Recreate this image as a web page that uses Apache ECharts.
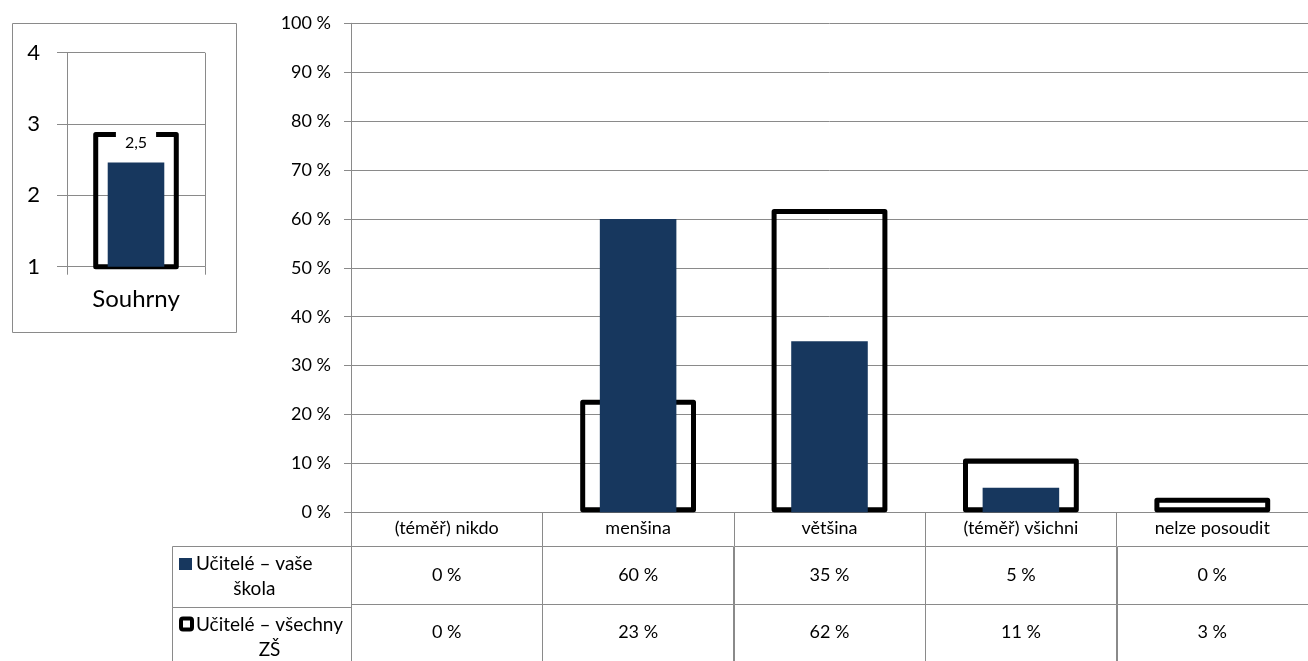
<!DOCTYPE html>
<html>
<head>
<meta charset="utf-8">
<script src="https://cdn.jsdelivr.net/npm/echarts@6/dist/echarts.min.js"></script>
<style>
html,body{margin:0;padding:0;background:#fff;}
#chart{width:1308px;height:661px;}
</style>
</head>
<body>
<div id="chart"></div>
<script>
// ---- data ----
const categories = ['(téměř) nikdo', 'menšina', 'většina', '(téměř) všichni', 'nelze posoudit'];
const schoolValues = [0, 60, 35, 5, 0];
const allValues = [0, 23, 62, 11, 3];
const seriesNames = ['Učitelé – vaše škola', 'Učitelé – všechny ZŠ'];
const seriesLabelLines = [['Učitelé – vaše', 'škola'], ['Učitelé – všechny', 'ZŠ']];
const summaryCategories = ['Souhrny'];
const summarySchool = [2.46];
const summaryAll = [2.89];

// ---- style ----
const FONT = 'Lato';
const GRID_COLOR = '#8a8a8a';
const BLUE = '#17375E';
const MAIN_FS = 18;
const LEGEND_FS = 19;

const chart = echarts.init(document.getElementById('chart'), null, {renderer: 'canvas'});

const tableRows = [schoolValues, allValues];
const tableData = [];
tableRows.forEach((arr, r) => arr.forEach((v, c) => tableData.push([c, r, v])));

function measure(text, size) {
  const ctx = document.createElement('canvas').getContext('2d');
  ctx.font = size + 'px ' + FONT;
  return ctx.measureText(text).width;
}

// legend column graphic
const legendLeft = 172, legendRight = 351, tableTop = 546, rowH = 61;
const graphics = [];
graphics.push({type: 'rect', shape: {x: 12.5, y: 23.5, width: 224, height: 309}, style: {fill: 'none', stroke: GRID_COLOR, lineWidth: 1}, silent: true});
seriesLabelLines.forEach((lines, r) => {
  const top = tableTop + r * rowH;
  graphics.push({type: 'rect', shape: {x: legendLeft + 0.5, y: top + 0.5, width: legendRight - legendLeft, height: rowH}, style: {fill: 'none', stroke: GRID_COLOR, lineWidth: 1}, silent: true});
  const textX = 196;
  const cy = top + rowH / 2;
  const l1y = cy - 12.5, l2y = cy + 12.5;
  const w1 = measure(lines[0], LEGEND_FS);
  if (r === 0) {
    graphics.push({type: 'rect', shape: {x: 179, y: l1y - 6, width: 13, height: 12}, style: {fill: BLUE}, silent: true});
  } else {
    graphics.push({type: 'rect', shape: {x: 181, y: l1y - 6.5, width: 11, height: 11, r: 2}, style: {fill: '#fff', stroke: '#000', lineWidth: 4}, silent: true});
  }
  graphics.push({type: 'text', style: {text: lines[0], x: textX, y: l1y, align: 'left', verticalAlign: 'middle', font: LEGEND_FS + 'px ' + FONT, fill: '#000'}, silent: true});
  graphics.push({type: 'text', style: {text: lines[1], x: textX + w1 / 2, y: l2y, align: 'center', verticalAlign: 'middle', font: LEGEND_FS + 'px ' + FONT, fill: '#000'}, silent: true});
});

const option = {
  animation: false,
  backgroundColor: '#fff',
  textStyle: {fontFamily: FONT},
  grid: [
    {left: 67, top: 52.7, width: 138, height: 214},
    {left: 351, top: 23.3, width: 967, height: 489},
    {left: 351, top: tableTop, width: 967, height: rowH * 2}
  ],
  xAxis: [
    {type: 'category', gridIndex: 0, data: summaryCategories,
     axisLine: {lineStyle: {color: GRID_COLOR}},
     axisTick: {show: true, length: 8, lineStyle: {color: GRID_COLOR}},
     splitLine: {show: true, lineStyle: {color: GRID_COLOR}},
     axisLabel: {color: '#000', fontSize: 24, fontFamily: FONT, margin: 21}},
    {type: 'category', gridIndex: 0, data: summaryCategories, show: false},
    {type: 'category', gridIndex: 1, data: categories,
     axisLine: {lineStyle: {color: GRID_COLOR}},
     axisTick: {show: true, length: 34, lineStyle: {color: GRID_COLOR}},
     axisLabel: {color: '#000', fontSize: MAIN_FS, fontFamily: FONT, margin: 7, interval: 0}},
    {type: 'category', gridIndex: 1, data: categories, show: false},
    {type: 'category', gridIndex: 2, data: categories, show: false}
  ],
  yAxis: [
    {type: 'value', gridIndex: 0, min: 1, max: 4, interval: 1,
     axisLine: {show: true, lineStyle: {color: GRID_COLOR}},
     axisTick: {show: true, length: 10, lineStyle: {color: GRID_COLOR}},
     splitLine: {show: true, lineStyle: {color: GRID_COLOR}},
     axisLabel: {color: '#000', fontSize: 22, fontFamily: FONT, margin: 27}},
    {type: 'value', gridIndex: 1, min: 0, max: 100, interval: 10,
     axisLine: {show: true, lineStyle: {color: GRID_COLOR}},
     axisTick: {show: true, length: 7, lineStyle: {color: GRID_COLOR}},
     splitLine: {show: true, lineStyle: {color: GRID_COLOR}},
     axisLabel: {color: '#000', fontSize: MAIN_FS, fontFamily: FONT, margin: 20, formatter: '{value} %'}},
    {type: 'category', gridIndex: 2, data: seriesNames, inverse: true, show: false}
  ],
  series: [
    {name: seriesNames[1], type: 'bar', xAxisIndex: 1, yAxisIndex: 0, data: summaryAll, barWidth: '62%',
     itemStyle: {color: 'rgba(0,0,0,0)', borderColor: '#000', borderWidth: 5, borderJoin: 'round'}},
    {name: seriesNames[0], type: 'bar', xAxisIndex: 0, yAxisIndex: 0, data: summarySchool, barWidth: '41%',
     itemStyle: {color: BLUE},
     label: {show: true, position: 'top', distance: 8, color: '#000', fontSize: 16, fontFamily: FONT,
       backgroundColor: '#fff', padding: [4, 9, 4, 9],
       formatter: p => p.value.toFixed(1).replace('.', ',')}},
    {name: seriesNames[1], type: 'bar', xAxisIndex: 3, yAxisIndex: 1, barWidth: '60.5%',
     data: allValues.map(v => v === 0 ? {value: v, itemStyle: {borderWidth: 0}} : v),
     itemStyle: {color: 'rgba(0,0,0,0)', borderColor: '#000', borderWidth: 5, borderJoin: 'round'}},
    {name: seriesNames[0], type: 'bar', xAxisIndex: 2, yAxisIndex: 1, barWidth: '40%',
     data: schoolValues, itemStyle: {color: BLUE}},
    {type: 'custom', xAxisIndex: 4, yAxisIndex: 2, data: tableData, silent: true,
     renderItem: (params, api) => {
       const p = api.coord([api.value(0), api.value(1)]);
       const s = api.size([1, 1]);
       const x = Math.round(p[0] - s[0] / 2) + 0.5, y = Math.round(p[1] - s[1] / 2) + 0.5;
       return {type: 'group', children: [
         {type: 'rect', shape: {x: x, y: y, width: Math.round(s[0]), height: Math.round(s[1])},
          style: {fill: 'none', stroke: GRID_COLOR, lineWidth: 1}},
         {type: 'text', style: {text: api.value(2) + ' %', x: p[0], y: p[1], align: 'center', verticalAlign: 'middle',
          font: MAIN_FS + 'px ' + FONT, fill: '#000'}}
       ]};
     }}
  ],
  graphic: graphics
};
chart.setOption(option);
</script>
</body>
</html>
